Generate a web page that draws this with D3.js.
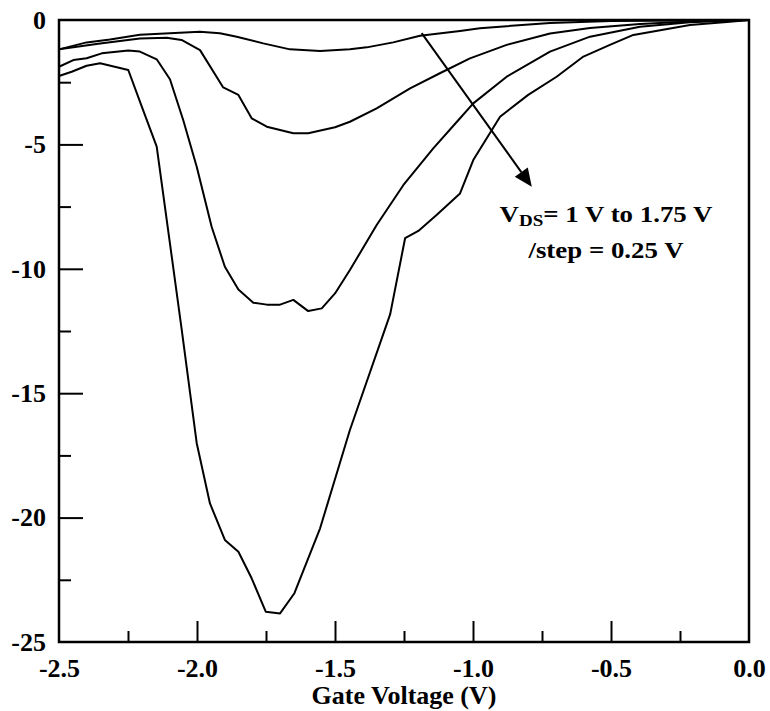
<!DOCTYPE html>
<html>
<head>
<meta charset="utf-8">
<script src="https://cdn.jsdelivr.net/npm/d3@7"></script>
<style>
  html, body { margin: 0; padding: 0; background: #fff; }
  svg text { font-family: "Liberation Serif", "Times New Roman", serif; font-weight: bold; fill: #000; }
</style>
</head>
<body>
<div id="chart"></div>
<script>
// Gate voltage sweeps, one curve per V_DS step
const gateV100 = [-2.5, -2.40, -2.315, -2.207, -1.99, -1.917, -1.856, -1.76, -1.663, -1.554, -1.446, -1.385, -1.289, -1.192, -1.047, -0.975, -0.721, -0.50, 0];
const value100 = [-1.18, -0.90, -0.78, -0.59, -0.47, -0.53, -0.67, -0.94, -1.18, -1.25, -1.18, -1.10, -0.90, -0.63, -0.44, -0.33, -0.12, -0.04, 0];

const gateV125 = [-2.5, -2.351, -2.207, -2.11, -2.056, -1.989, -1.905, -1.85, -1.802, -1.747, -1.651, -1.597, -1.50, -1.446, -1.349, -1.228, -1.12, -1.011, -0.878, -0.721, -0.576, -0.395, -0.178, 0];
const value125 = [-1.18, -0.94, -0.74, -0.71, -0.80, -1.21, -2.71, -3.01, -3.95, -4.29, -4.55, -4.55, -4.31, -4.09, -3.55, -2.75, -2.14, -1.54, -1.00, -0.54, -0.32, -0.16, -0.04, 0];

const gateV150 = [-2.5, -2.448, -2.40, -2.345, -2.249, -2.207, -2.146, -2.098, -2.05, -2.001, -1.947, -1.899, -1.85, -1.796, -1.747, -1.699, -1.651, -1.597, -1.548, -1.50, -1.446, -1.349, -1.252, -1.144, -1.047, -0.999, -0.878, -0.721, -0.576, -0.395, -0.214, 0];
const value150 = [-1.88, -1.61, -1.54, -1.34, -1.23, -1.27, -1.58, -2.38, -4.02, -5.90, -8.31, -9.92, -10.83, -11.36, -11.44, -11.44, -11.25, -11.70, -11.59, -10.99, -10.05, -8.24, -6.63, -5.16, -3.95, -3.35, -2.28, -1.27, -0.67, -0.27, -0.09, 0];

const gateV175 = [-2.5, -2.454, -2.40, -2.351, -2.249, -2.20, -2.146, -2.056, -2.001, -1.953, -1.899, -1.85, -1.802, -1.751, -1.699, -1.647, -1.554, -1.446, -1.30, -1.246, -1.198, -1.132, -1.047, -0.999, -0.902, -0.800, -0.697, -0.60, -0.504, -0.419, -0.214, -0.069, 0];
const value175 = [-2.25, -2.08, -1.84, -1.74, -2.01, -3.48, -5.09, -12.39, -17.01, -19.43, -20.90, -21.37, -22.44, -23.78, -23.85, -23.04, -20.43, -16.48, -11.82, -8.77, -8.48, -7.84, -6.97, -5.63, -3.89, -3.01, -2.28, -1.47, -1.00, -0.60, -0.20, -0.07, 0];

// Axis ticks
const xLabelTicks = [-2.5, -2.0, -1.5, -1.0, -0.5, 0.0];
const xMajorTicks = [-2.0, -1.5, -1.0, -0.5];
const xMinorTicks = [-2.25, -1.75, -1.25, -0.75, -0.25];
const yLabelTicks = [0, -5, -10, -15, -20, -25];
const yMajorTicks = [-5, -10, -15, -20];
const yMinorTicks = [-2.5, -7.5, -12.5, -17.5, -22.5];

// Arrow annotation (start, end) in data units
const arrowFrom = [-1.186, -0.53];
const arrowTo = [-0.787, -6.70];

const width = 770, height = 711;
const margin = { top: 20, right: 21, bottom: 69, left: 59 };

const x = d3.scaleLinear().domain([-2.5, 0]).range([margin.left, width - margin.right]);
const y = d3.scaleLinear().domain([-25, 0]).range([height - margin.bottom, margin.top]);

const svg = d3.select("#chart").append("svg")
  .attr("width", width)
  .attr("height", height)
  .attr("viewBox", `0 0 ${width} ${height}`);

const plotBottom = height - margin.bottom;

// Ticks drawn inward from the bottom and left edges
function tickAxis(axisFn, scale, values, size) {
  return axisFn(scale).tickValues(values).tickSize(-size).tickFormat("");
}

const xTickG = svg.append("g").attr("transform", `translate(0,${plotBottom})`);
xTickG.append("g").call(tickAxis(d3.axisBottom, x, xMajorTicks, 21));
xTickG.append("g").call(tickAxis(d3.axisBottom, x, xMinorTicks, 11));
xTickG.selectAll(".domain").remove();
xTickG.selectAll("line").attr("stroke", "#000").attr("stroke-width", 2);

const yTickG = svg.append("g").attr("transform", `translate(${margin.left},0)`);
yTickG.append("g").call(tickAxis(d3.axisLeft, y, yMajorTicks, 24));
yTickG.append("g").call(tickAxis(d3.axisLeft, y, yMinorTicks, 12));
yTickG.selectAll(".domain").remove();
yTickG.selectAll("line").attr("stroke", "#000").attr("stroke-width", 2);

// Tick labels
const xLab = svg.append("g")
  .attr("transform", `translate(0,${plotBottom})`)
  .call(d3.axisBottom(x).tickValues(xLabelTicks).tickSize(0).tickPadding(0)
    .tickFormat((d) => d.toFixed(1)));
xLab.select(".domain").remove();
xLab.selectAll("text")
  .attr("dy", null)
  .attr("y", 35)
  .attr("font-size", 26)
  .attr("font-family", null);

const yLab = svg.append("g")
  .attr("transform", `translate(${margin.left},0)`)
  .call(d3.axisLeft(y).tickValues(yLabelTicks).tickSize(0).tickPadding(13)
    .tickFormat((d) => String(d)));
yLab.select(".domain").remove();
yLab.selectAll("text")
  .attr("font-size", 26)
  .attr("font-family", null);

svg.append("text")
  .attr("x", (x(-2.5) + x(0)) / 2)
  .attr("y", 704)
  .attr("text-anchor", "middle")
  .attr("font-size", 26)
  .text("Gate Voltage (V)");

// Curves
const series = [
  [gateV100, value100],
  [gateV125, value125],
  [gateV150, value150],
  [gateV175, value175]
];
const line = d3.line().x((d) => x(d[0])).y((d) => y(d[1]));

svg.append("g")
  .selectAll("path")
  .data(series.map(([gx, gy]) => gx.map((v, i) => [v, gy[i]])))
  .join("path")
  .attr("d", line)
  .attr("fill", "none")
  .attr("stroke", "#000")
  .attr("stroke-width", 2)
  .attr("stroke-linejoin", "round");

// Plot frame
svg.append("rect")
  .attr("x", x(-2.5))
  .attr("y", y(0))
  .attr("width", x(0) - x(-2.5))
  .attr("height", y(-25) - y(0))
  .attr("fill", "none")
  .attr("stroke", "#000")
  .attr("stroke-width", 2.5);

// Arrow
const ax0 = x(arrowFrom[0]), ay0 = y(arrowFrom[1]);
const ax1 = x(arrowTo[0]), ay1 = y(arrowTo[1]);
const ang = Math.atan2(ay1 - ay0, ax1 - ax0);
const headLen = 18, headHalf = 8;
const bx = ax1 - headLen * Math.cos(ang), by = ay1 - headLen * Math.sin(ang);
svg.append("line")
  .attr("x1", ax0).attr("y1", ay0)
  .attr("x2", bx).attr("y2", by)
  .attr("stroke", "#000")
  .attr("stroke-width", 2);
svg.append("path")
  .attr("d", `M${ax1},${ay1}L${bx - headHalf * Math.sin(ang)},${by + headHalf * Math.cos(ang)}L${bx + headHalf * Math.sin(ang)},${by - headHalf * Math.cos(ang)}Z`)
  .attr("fill", "#000");

// Annotation text
const note = svg.append("g").attr("transform", "translate(606,0) scale(1.12,1)");
const t1 = note.append("text")
  .attr("y", 222)
  .attr("text-anchor", "middle")
  .attr("font-size", 24);
t1.append("tspan").text("V");
t1.append("tspan").attr("font-size", 17).attr("dy", 4).text("DS");
t1.append("tspan").attr("dy", -4).text("= 1 V to 1.75 V");
note.append("text")
  .attr("y", 258)
  .attr("text-anchor", "middle")
  .attr("font-size", 24)
  .text("/step = 0.25 V");
</script>
</body>
</html>
